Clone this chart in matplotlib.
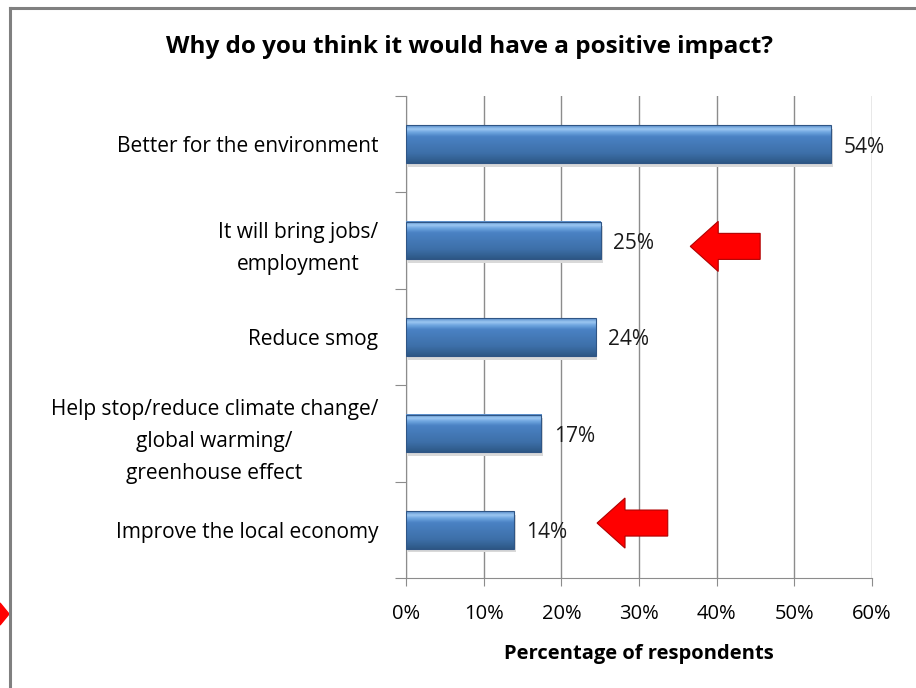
import matplotlib.pyplot as plt
import matplotlib.patches as mpatches
import matplotlib.colors as mcolors
import numpy as np

categories = ['Better for the environment',
              'It will bring jobs/\nemployment',
              'Reduce smog',
              'Help stop/reduce climate change/\nglobal warming/\ngreenhouse effect',
              'Improve the local economy']
values = [54.7, 25.1, 24.4, 17.4, 13.9]
value_labels = ['54%', '25%', '24%', '17%', '14%']
xticks = [0, 10, 20, 30, 40, 50, 60]

# arrows pointing at two of the bars: (category index, tip x, tail x, y offset)
arrows = [(1, 36.6, 45.6, 0.06), (4, 24.6, 33.7, -0.07)]

plt.rcParams['font.family'] = ['Open Sans', 'DejaVu Sans']

W, H = 916, 688
fig = plt.figure(figsize=(W / 100, H / 100), dpi=100)
fig.patch.set_facecolor('white')

# chart frame
fig.add_artist(plt.Line2D([10 / W, 10 / W], [0, 1 - 8 / H], color='#808080', lw=2.2))
fig.add_artist(plt.Line2D([10 / W, 1], [1 - 8 / H, 1 - 8 / H], color='#808080', lw=2.2))
# small red marker at left edge
fig.add_artist(mpatches.Polygon([[0, 1 - 603 / H], [9 / W, 1 - 614 / H], [0, 1 - 625 / H]],
                                closed=True, color='#ff0000', transform=fig.transFigure))

ax = fig.add_axes([406 / W, 1 - 578 / H, 466 / W, 482 / H])
ax.set_xlim(0, 60)
ax.set_ylim(4.5, -0.5)

grad = mcolors.LinearSegmentedColormap.from_list(
    'bar', [(0, '#2d5886'), (0.25, '#3d6fa8'), (0.7, '#4a82c4'), (0.82, '#6fa6e0'),
            (0.9, '#9cc7f2'), (1.0, '#5a8fcb')])
g = np.linspace(0, 1, 64).reshape(-1, 1)
bh = 0.39
for i, v in enumerate(values):
    # shadow
    ax.add_patch(mpatches.Rectangle((0.25, i - bh / 2 + 0.04), v, bh, color='#d9d9d9',
                                    zorder=2, lw=0))
    ax.imshow(g, cmap=grad, aspect='auto', origin='lower',
              extent=(0, v, i + bh / 2, i - bh / 2), zorder=3)
    ax.add_patch(mpatches.Rectangle((0, i - bh / 2), v, bh, fill=False,
                                    edgecolor='#2f5585', lw=0.8, zorder=4))
    ax.text(v + 1.6, i + 0.03, value_labels[i], va='center', ha='left',
            fontsize=15, color='#1a1a1a', zorder=5)

for idx, tip, tail, dy in arrows:
    yc = idx + dy
    hw, sw, hl = 0.26, 0.135, 3.6
    pts = [[tip, yc], [tip + hl, yc - hw], [tip + hl, yc - sw], [tail, yc - sw],
           [tail, yc + sw], [tip + hl, yc + sw], [tip + hl, yc + hw]]
    ax.add_patch(mpatches.Polygon(pts, closed=True, facecolor='#ff0000',
                                  edgecolor='#b00000', lw=0.8, zorder=6))

ax.set_xticks(xticks)
ax.set_xticklabels([f'{t}%' for t in xticks], fontsize=14.5)
ax.xaxis.grid(True, color='#8c8c8c', lw=1)
ax.set_axisbelow(True)
ax.tick_params(axis='x', length=6, color='#8c8c8c', pad=13)

ax.set_yticks(np.arange(-0.5, 5, 1))
ax.set_yticklabels([])
ax.set_yticks(range(len(categories)), minor=True)
ax.set_yticklabels(categories, minor=True, fontsize=15, linespacing=1.7)
ax.tick_params(axis='y', which='major', length=8, color='#8c8c8c')
ax.tick_params(axis='y', which='minor', length=0, pad=20)
for lab in ax.get_yticklabels(minor=True):
    lab.set_horizontalalignment('right')
    lab.set_multialignment('center')

for s in ['top', 'right']:
    ax.spines[s].set_visible(False)
for s in ['left', 'bottom']:
    ax.spines[s].set_color('#8c8c8c')

ax.set_xlabel('Percentage of respondents', fontsize=14.5, fontweight='bold', labelpad=14)
fig.text(470 / W, 1 - 47 / H, 'Why do you think it would have a positive impact?',
         ha='center', va='center', fontsize=17.5, fontweight='bold')

fig.savefig('out.png', dpi=100)
